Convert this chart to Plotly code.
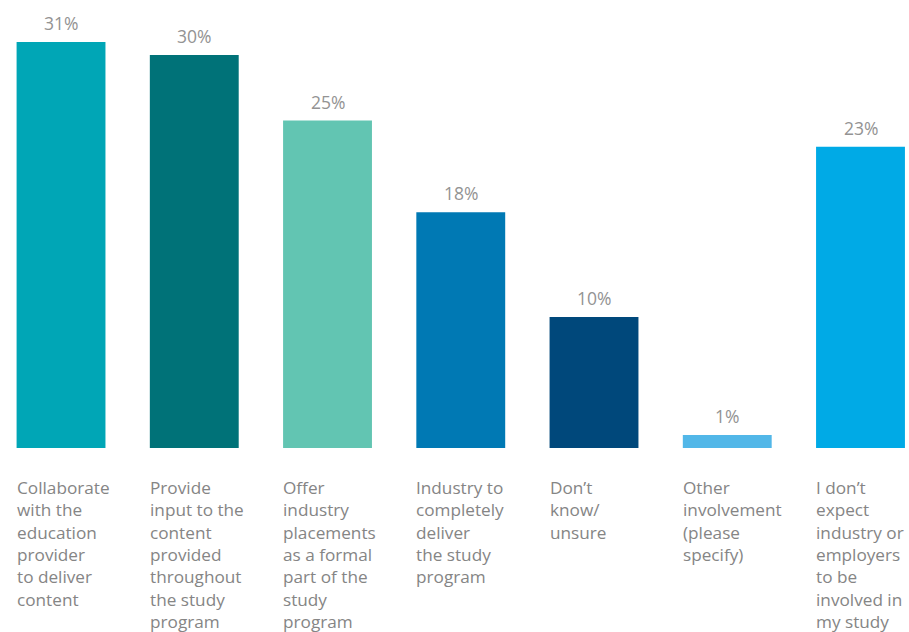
import plotly.graph_objects as go

# Survey responses: expected industry involvement in study programs
categories = [
    "Collaborate<br>with the<br>education<br>provider<br>to deliver<br>content",
    "Provide<br>input to the<br>content<br>provided<br>throughout<br>the study<br>program",
    "Offer<br>industry<br>placements<br>as a formal<br>part of the<br>study<br>program",
    "Industry to<br>completely<br>deliver<br>the study<br>program",
    "Don’t<br>know/<br>unsure",
    "Other<br>involvement<br>(please<br>specify)",
    "I don’t<br>expect<br>industry or<br>employers<br>to be<br>involved in<br>my study",
]
values = [31, 30, 25, 18, 10, 1, 23]
colors = ["#00A6B6", "#007278", "#62C5B2", "#0079B4", "#00487B", "#52B7E8", "#00AAE6"]

positions = list(range(len(values)))
bar_width = 0.667
font_family = "Open Sans, Noto Sans, sans-serif"

fig = go.Figure(
    go.Bar(
        x=positions,
        y=values,
        width=bar_width,
        marker=dict(color=colors, line=dict(width=0)),
        hoverinfo="skip",
    )
)

annotations = []
# value labels above each bar
for x, v in zip(positions, values):
    annotations.append(dict(
        x=x, y=v, xref="x", yref="y",
        text=f"{v}%", showarrow=False,
        xanchor="center", yanchor="bottom", yshift=5,
        font=dict(family=font_family, size=17.5, color="#939393"),
    ))
# category labels below, left-aligned with each bar
for x, label in zip(positions, categories):
    annotations.append(dict(
        x=x - bar_width / 2, y=-0.057, xref="x", yref="paper",
        text=label, showarrow=False, align="left",
        xanchor="left", yanchor="top", xshift=-2,
        font=dict(family=font_family, size=17.2, color="#858585"),
    ))

fig.update_layout(
    width=909, height=632,
    margin=dict(l=0, r=0, t=0, b=184),
    paper_bgcolor="white", plot_bgcolor="white",
    showlegend=False,
    xaxis=dict(range=[-0.458, 6.364], visible=False, fixedrange=True),
    yaxis=dict(range=[0, 34.2], visible=False, fixedrange=True),
    annotations=annotations,
)

fig.write_html("out.html")
